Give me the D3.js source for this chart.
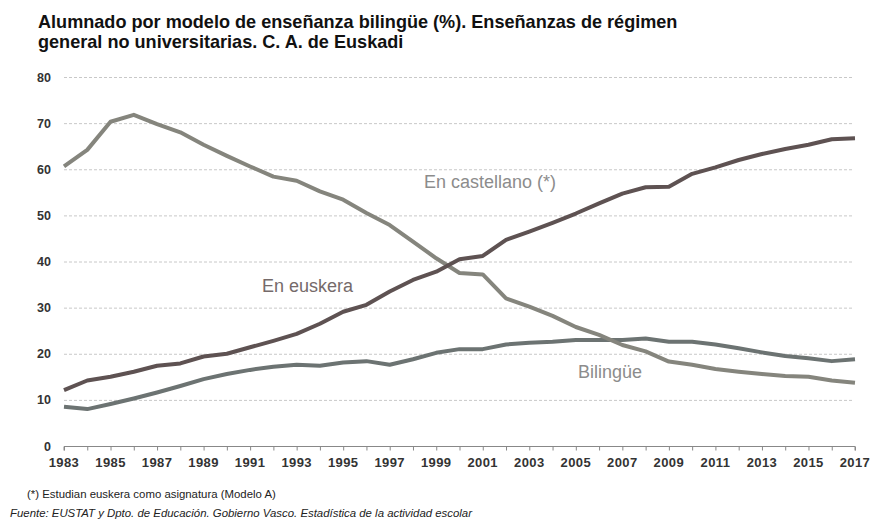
<!DOCTYPE html>
<html><head><meta charset="utf-8">
<script src="https://cdn.jsdelivr.net/npm/d3@7"></script>
<style>
body{margin:0;background:#fff;}
svg{display:block;font-family:"Liberation Sans",Arial,sans-serif;}
</style></head><body>
<svg id="c" width="870" height="527"></svg>
<script>
const years = d3.range(1983, 2018);
const castellano = [60.6,64.2,70.3,71.8,69.8,68.0,65.3,62.9,60.6,58.4,57.5,55.2,53.4,50.5,47.9,44.3,40.7,37.5,37.2,32.0,30.2,28.2,25.8,24.1,21.9,20.5,18.3,17.6,16.7,16.1,15.6,15.2,15.0,14.2,13.7];
const euskera = [12.1,14.2,15.0,16.1,17.4,17.9,19.4,20.0,21.4,22.8,24.3,26.5,29.1,30.6,33.5,36.0,37.8,40.5,41.2,44.7,46.5,48.4,50.4,52.6,54.7,56.1,56.2,59.0,60.4,62.0,63.3,64.4,65.3,66.5,66.7];
const bilingue = [8.5,8.0,9.1,10.3,11.6,13.0,14.5,15.6,16.5,17.2,17.6,17.4,18.1,18.4,17.6,18.8,20.2,21.0,21.0,22.0,22.4,22.6,23.0,23.0,23.0,23.3,22.6,22.6,22.0,21.2,20.3,19.5,19.0,18.4,18.8];
const yTicks = [0,10,20,30,40,50,60,70,80];
const xLabels = d3.range(1983, 2018, 2);
const titleLines = ["Alumnado por modelo de enseñanza bilingüe (%). Enseñanzas de régimen", "general no universitarias. C. A. de Euskadi"];
const seriesLabels = ["En castellano (*)", "En euskera", "Bilingüe"];
const footnote = "(*) Estudian euskera como asignatura (Modelo A)";
const source = "Fuente: EUSTAT y Dpto. de Educación. Gobierno Vasco. Estadística de la actividad escolar";

const svg = d3.select("#c");
const x = d3.scaleLinear().domain([1983, 2017]).range([64, 855]);
const y = d3.scaleLinear().domain([0, 80]).range([446, 77]);

// title
svg.append("text").attr("x", 38).attr("y", 28).attr("font-weight", "bold").attr("font-size", 18.1).attr("fill", "#111")
  .selectAll("tspan").data(titleLines).join("tspan").attr("x", 38).attr("dy", (d,i)=> i ? 19.5 : 0).text(d=>d);

// grid
svg.append("g").selectAll("line").data(yTicks.filter(d=>d>0)).join("line")
  .attr("x1", x(1983)).attr("x2", 853).attr("y1", d=>y(d)+0.5).attr("y2", d=>y(d)+0.5)
  .attr("stroke", "#c8c8c8").attr("stroke-width", 1).attr("stroke-dasharray", "3,2");

// y labels
svg.append("g").selectAll("text").data(yTicks).join("text")
  .attr("x", 51).attr("y", d=>y(d)+4.5).attr("text-anchor", "end")
  .attr("font-weight", "bold").attr("font-size", 12.5).attr("fill", "#333").text(d=>d);

// x axis
const xa = svg.append("g").attr("transform", "translate(0,446.5)")
  .call(d3.axisBottom(x).tickValues(years).tickSize(4).tickFormat(""));
xa.select(".domain").attr("stroke", "#888").attr("d", `M${x(1983)},4V0H${x(2017)}V4`);
xa.selectAll(".tick line").attr("stroke", "#888");
svg.append("g").selectAll("text").data(xLabels).join("text")
  .attr("x", d=>x(d)).attr("y", 467).attr("text-anchor", "middle")
  .attr("font-weight", "bold").attr("font-size", 13).attr("letter-spacing", 0.4).attr("fill", "#333").text(d=>d);

// lines
const line = d3.line().x((d,i)=>x(years[i])).y(d=>y(d));
const series = [
  {v: bilingue, c: "#6c7372"},
  {v: castellano, c: "#85857d"},
  {v: euskera, c: "#5e5252"}
];
svg.append("g").selectAll("path").data(series).join("path")
  .attr("d", d=>line(d.v)).attr("fill", "none").attr("stroke", d=>d.c)
  .attr("stroke-width", 4).attr("stroke-linejoin", "round");

// series labels
const lbl = [
  {t: seriesLabels[0], x: 424, y: 188, c: "#8c8c8c"},
  {t: seriesLabels[1], x: 262, y: 292, c: "#756a6a"},
  {t: seriesLabels[2], x: 578, y: 378, c: "#8c8c8c"}
];
svg.append("g").selectAll("text").data(lbl).join("text")
  .attr("x", d=>d.x).attr("y", d=>d.y).attr("font-size", 18).attr("fill", d=>d.c).text(d=>d.t);

// footnotes
svg.append("text").attr("x", 27).attr("y", 498).attr("font-size", 11.4).attr("fill", "#222").text(footnote);
svg.append("text").attr("x", 10).attr("y", 517).attr("font-size", 11.4).attr("font-style", "italic").attr("fill", "#222").text(source);
</script>
</body></html>
